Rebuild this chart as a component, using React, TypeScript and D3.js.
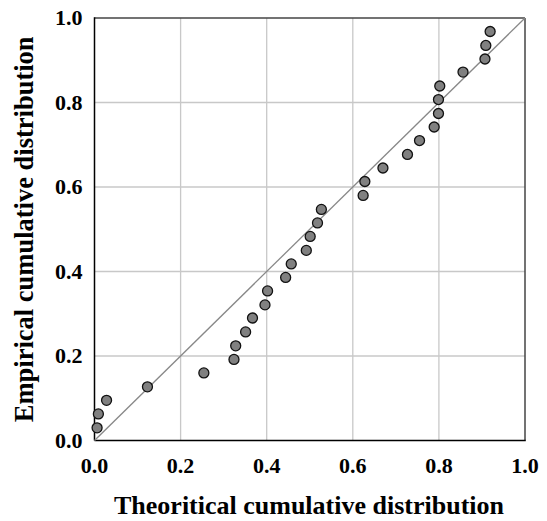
import React, { useEffect, useRef } from 'react';
import * as d3 from 'd3';

// theoretical vs empirical cumulative distribution
const theoretical = [0.006, 0.009, 0.028, 0.123, 0.254, 0.324, 0.328, 0.351, 0.367, 0.396,
  0.402, 0.444, 0.457, 0.492, 0.501, 0.518, 0.527, 0.624, 0.628, 0.670,
  0.727, 0.755, 0.789, 0.799, 0.799, 0.802, 0.856, 0.907, 0.909, 0.919];
const empirical = [0.030, 0.063, 0.095, 0.127, 0.160, 0.192, 0.224, 0.257, 0.290, 0.321,
  0.354, 0.386, 0.418, 0.450, 0.483, 0.515, 0.547, 0.580, 0.613, 0.645,
  0.677, 0.710, 0.742, 0.774, 0.807, 0.839, 0.872, 0.903, 0.935, 0.968];
const tickValues = [0, 0.2, 0.4, 0.6, 0.8, 1.0];

const App = () => {
  const ref = useRef<SVGSVGElement>(null);

  useEffect(() => {
    var w = 547;
    var h = 521;
    var m = { left: 94.5, right: 22, top: 18, bottom: 80.5 };

    var svg = d3.select(ref.current);
    svg.selectAll('*').remove();

    var x = d3.scaleLinear().domain([0, 1]).range([m.left, w - m.right]);
    var y = d3.scaleLinear().domain([0, 1]).range([h - m.bottom, m.top]);

    // grid
    svg.append('g')
      .selectAll('line.vx')
      .data(tickValues.slice(1, -1))
      .enter()
      .append('line')
      .attr('x1', d => x(d)).attr('x2', d => x(d))
      .attr('y1', y(0)).attr('y2', y(1))
      .attr('stroke', '#c8c8c8').attr('stroke-width', 1.3);
    svg.append('g')
      .selectAll('line.hy')
      .data(tickValues.slice(1, -1))
      .enter()
      .append('line')
      .attr('y1', d => y(d)).attr('y2', d => y(d))
      .attr('x1', x(0)).attr('x2', x(1))
      .attr('stroke', '#c8c8c8').attr('stroke-width', 1.3);

    // frame: top/right dark grey, left/bottom black
    svg.append('line').attr('x1', x(0)).attr('x2', x(1)).attr('y1', y(1)).attr('y2', y(1))
      .attr('stroke', '#444').attr('stroke-width', 1.5);
    svg.append('line').attr('x1', x(1)).attr('x2', x(1)).attr('y1', y(0)).attr('y2', y(1))
      .attr('stroke', '#444').attr('stroke-width', 1.5);
    svg.append('line').attr('x1', x(0)).attr('x2', x(0)).attr('y1', y(0)).attr('y2', y(1) - 0.75)
      .attr('stroke', '#000').attr('stroke-width', 1.5);
    svg.append('line').attr('x1', x(0)).attr('x2', x(1) + 0.75).attr('y1', y(0)).attr('y2', y(0))
      .attr('stroke', '#000').attr('stroke-width', 1.5);

    // 1:1 line
    svg.append('line')
      .attr('x1', x(0)).attr('y1', y(0))
      .attr('x2', x(1)).attr('y2', y(1))
      .attr('stroke', '#888').attr('stroke-width', 1.3);

    // points
    svg.append('g')
      .selectAll('circle')
      .data(theoretical)
      .enter()
      .append('circle')
      .attr('cx', d => x(d))
      .attr('cy', (d, i) => y(empirical[i]))
      .attr('r', 5)
      .attr('fill', '#808080')
      .attr('stroke', '#111')
      .attr('stroke-width', 1.3);

    var font = "'Liberation Serif', 'Times New Roman', serif";

    // tick labels
    svg.append('g')
      .selectAll('text')
      .data(tickValues)
      .enter()
      .append('text')
      .attr('x', d => x(d))
      .attr('y', h - m.bottom + 32.5)
      .attr('text-anchor', 'middle')
      .attr('font-family', font).attr('font-weight', 'bold').attr('font-size', 22)
      .text(d => d.toFixed(1));
    svg.append('g')
      .selectAll('text')
      .data(tickValues)
      .enter()
      .append('text')
      .attr('x', m.left - 12)
      .attr('y', d => y(d) + 7)
      .attr('text-anchor', 'end')
      .attr('font-family', font).attr('font-weight', 'bold').attr('font-size', 22)
      .text(d => d.toFixed(1));

    // axis titles
    svg.append('text')
      .attr('x', 309)
      .attr('y', 514)
      .attr('text-anchor', 'middle')
      .attr('font-family', font).attr('font-weight', 'bold').attr('font-size', 26)
      .text('Theoritical cumulative distribution');
    svg.append('text')
      .attr('transform', 'translate(33,' + (y(0) + y(1)) / 2 + ') rotate(-90)')
      .attr('text-anchor', 'middle')
      .attr('font-family', font).attr('font-weight', 'bold').attr('font-size', 26.5)
      .text('Empirical cumulative distribution');
  }, []);

  return <svg ref={ref} width={547} height={521} style={{ position: 'absolute', left: 0, top: 0 }}></svg>;
};

export default App;
